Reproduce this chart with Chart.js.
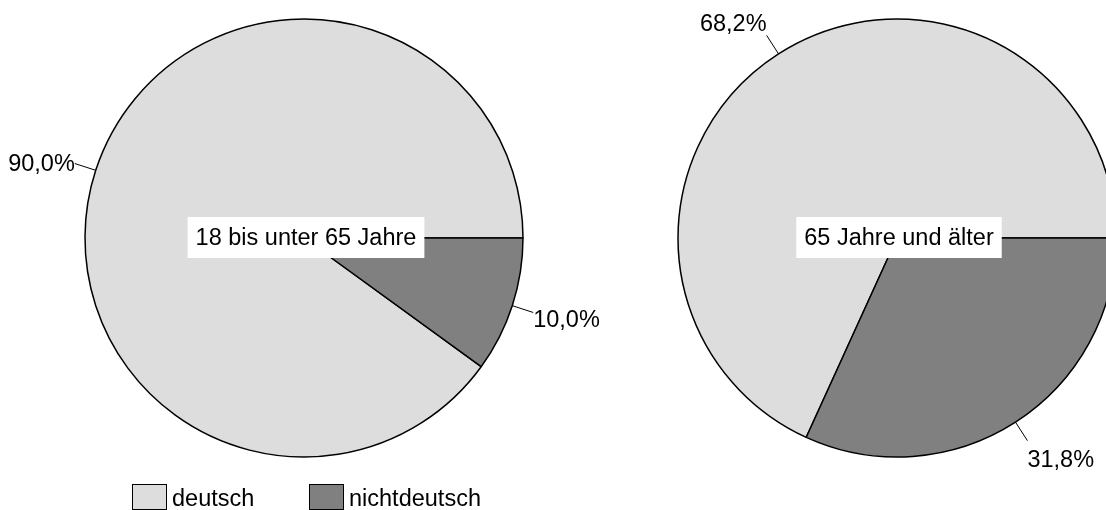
<!DOCTYPE html>
<html><head><meta charset="utf-8">
<script src="https://cdn.jsdelivr.net/npm/chart.js@4.4.1/dist/chart.umd.min.js"></script>
<style>
html,body{margin:0;padding:0;background:#fff;overflow:hidden;width:1106px;height:510px;position:relative}
canvas{position:absolute;top:0}
</style></head>
<body>
<canvas id="left" width="608" height="510" style="left:0"></canvas>
<canvas id="right" width="560" height="510" style="left:617px"></canvas>
<script>
// ---- data ----
const categories = ['deutsch', 'nichtdeutsch'];
const groups = ['18 bis unter 65 Jahre', '65 Jahre und älter'];
const shares18to65 = [90.0, 10.0];
const shares65plus = [68.2, 31.8];
const sliceColors = ['#dddddd', '#808080'];

const FONT = '23.5px "Liberation Sans", Arial, sans-serif';
const fmt = v => v.toFixed(1).replace('.', ',') + '%';

const labelPlugin = {
  id: 'pieLabels',
  afterDatasetsDraw(chart, args, opts) {
    const ctx = chart.ctx;
    const meta = chart.getDatasetMeta(0);
    const vals = chart.data.datasets[0].data;
    ctx.save();
    ctx.font = FONT;
    ctx.lineWidth = 1;
    ctx.strokeStyle = '#000';
    ctx.fillStyle = '#000';
    meta.data.forEach((arc, i) => {
      const p = arc.getProps(['x', 'y', 'startAngle', 'endAngle', 'outerRadius'], true);
      const mid = (p.startAngle + p.endAngle) / 2, c = Math.cos(mid), s = Math.sin(mid);
      const x1 = p.x + c * p.outerRadius, y1 = p.y + s * p.outerRadius;
      const x2 = p.x + c * (p.outerRadius + 22), y2 = p.y + s * (p.outerRadius + 22);
      ctx.beginPath(); ctx.moveTo(x1, y1); ctx.lineTo(x2, y2); ctx.stroke();
      ctx.textAlign = c >= 0 ? 'left' : 'right';
      ctx.textBaseline = 'middle';
      ctx.fillText(fmt(vals[i]), x2, y2 + 4.6 + 6 * s + 14 * s * Math.abs(s));
    });
    // centre title box
    const t = opts.title;
    const w = ctx.measureText(t).width;
    const cx = meta.data[0].x + 2, cy = meta.data[0].y;
    ctx.fillStyle = '#fff';
    ctx.fillRect(cx - w / 2 - 8, cy - 21, w + 16, 41);
    ctx.fillStyle = '#000';
    ctx.textAlign = 'center';
    ctx.textBaseline = 'middle';
    ctx.fillText(t, cx, cy + 1);
    // legend
    if (opts.legend) {
      const lx = [132, 309];
      categories.forEach((name, i) => {
        ctx.fillStyle = sliceColors[i];
        ctx.fillRect(lx[i] + 0.5, 484.5, 34, 25);
        ctx.strokeStyle = '#000';
        ctx.strokeRect(lx[i] + 0.5, 484.5, 34, 25);
        ctx.fillStyle = '#000';
        ctx.textAlign = 'left';
        ctx.textBaseline = 'alphabetic';
        ctx.fillText(name, lx[i] + 40, 506);
      });
    }
    ctx.restore();
  }
};

function makePie(id, values, title, legend) {
  const nd = values[1];
  return new Chart(document.getElementById(id), {
    type: 'pie',
    data: {
      labels: categories,
      datasets: [{
        data: values,
        backgroundColor: sliceColors,
        borderColor: '#000',
        borderWidth: 1.5,
        radius: 219,
        offset: 0,
        hoverOffset: 0
      }]
    },
    options: {
      responsive: false,
      animation: false,
      rotation: 90 + nd * 3.6,
      layout: { padding: { top: 0, bottom: 34, left: 0, right: 0 } },
      plugins: {
        legend: { display: false },
        tooltip: { enabled: false },
        pieLabels: { title: title, legend: legend }
      },
      events: []
    },
    plugins: [labelPlugin]
  });
}

makePie('left', shares18to65, groups[0], true);
makePie('right', shares65plus, groups[1], false);
</script>
</body></html>
